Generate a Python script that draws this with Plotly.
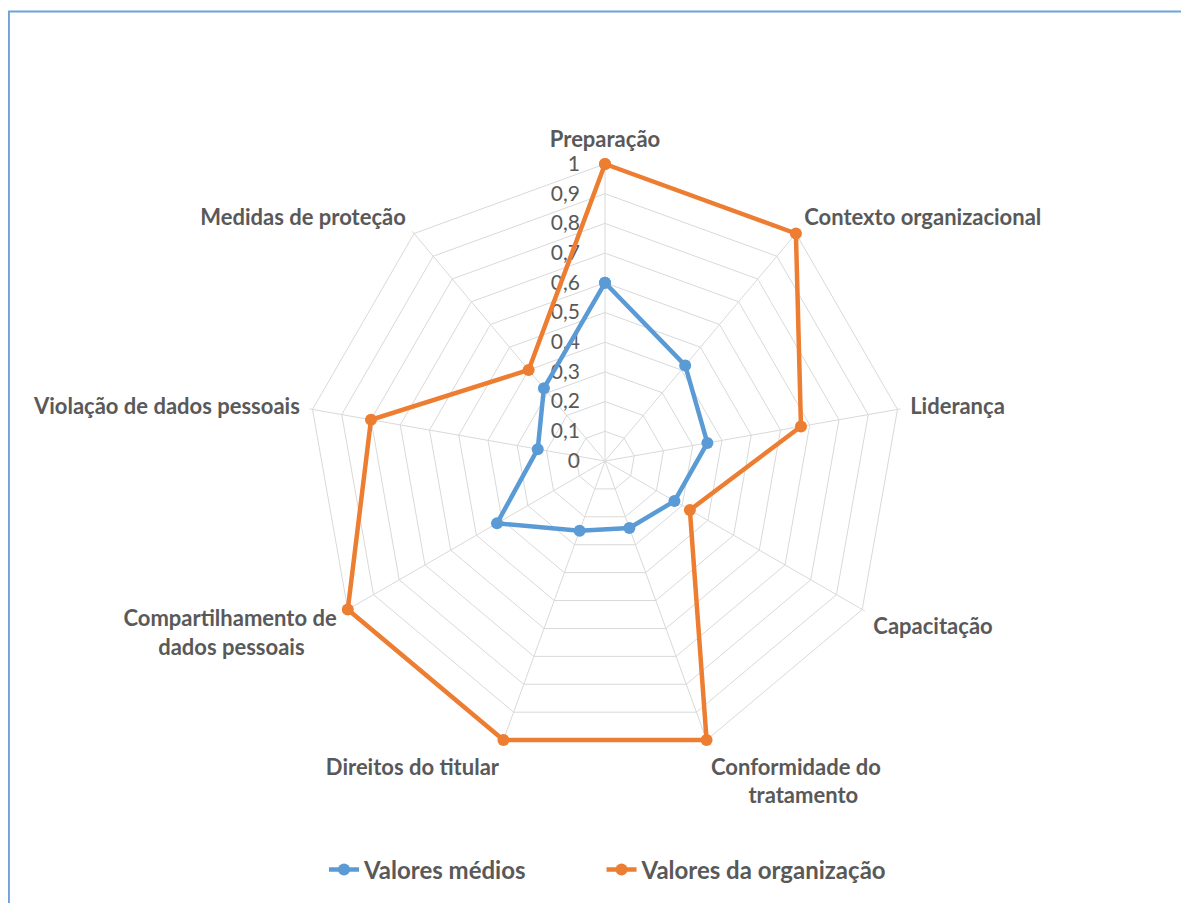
import plotly.graph_objects as go

NB = "\u00a0"
categories = ["Preparação", "Contexto organizacional", "Liderança", "Capacitação",
              "Conformidade do<br>" + NB * 7 + "tratamento", "Direitos do titular",
              "Compartilhamento de<br>dados pessoais" + NB * 6,
              "Violação de dados pessoais", "Medidas de proteção"]
valores_medios = [0.60, 0.42, 0.35, 0.27, 0.24, 0.25, 0.42, 0.23, 0.32]
valores_organizacao = [1.00, 1.00, 0.67, 0.33, 1.00, 1.00, 1.00, 0.80, 0.40]
series_names = ["Valores médios", "Valores da organização"]
legend_pad = [NB * 12, ""]
colors = ["#5B9BD5", "#ED7D31"]

W, H = 1189, 903
# page body has an 8px margin; figure coords = screen coords - 8
RMAX = 1.01  # tiny headroom so lines on the outer ring are not clipped
cx, cy, R1 = 597, 453, 297
R = R1 * RMAX

fig = go.Figure()
for name, pad, vals, col in zip(series_names, legend_pad,
                                [valores_medios, valores_organizacao], colors):
    fig.add_trace(go.Scatterpolar(
        r=vals + vals[:1], theta=categories + categories[:1], name=name + pad,
        mode="lines+markers", cliponaxis=False,
        line=dict(color=col, width=4.5),
        marker=dict(color=col, size=12),
    ))

fig.update_layout(
    width=W, height=H,
    margin=dict(l=0, r=0, t=0, b=0),
    paper_bgcolor="white", plot_bgcolor="white",
    separators=", ",
    font=dict(family="Lato, Open Sans, sans-serif", color="#595959"),
    polar=dict(
        domain=dict(x=[(cx - R) / W, (cx + R) / W], y=[1 - (cy + R) / H, 1 - (cy - R) / H]),
        bgcolor="white",
        gridshape="linear",
        angularaxis=dict(
            rotation=90, direction="clockwise", layer="below traces",
            showline=False,
            gridcolor="#D9D9D9", gridwidth=1.2,
            ticks="outside", ticklen=5, tickcolor="rgba(0,0,0,0)",
            tickfont=dict(size=22, color="#595959", weight="bold"),
        ),
        radialaxis=dict(
            range=[0, RMAX], tick0=0, dtick=0.1, angle=90,
            side="counterclockwise",
            tickangle=90, ticksuffix=NB * 4, layer="below traces",
            showline=False, ticks="",
            gridcolor="#D9D9D9", gridwidth=1.2,
            tickfont=dict(size=21, color="#595959"),
        ),
    ),
    legend=dict(
        orientation="h", x=600 / W, xanchor="center", y=1 - 862 / H, yanchor="middle",
        font=dict(size=24, color="#595959", weight="bold"),
    ),
    shapes=[dict(type="rect", xref="paper", yref="paper",
                 x0=0.8 / W, x1=1.02, y0=-0.02, y1=1 - 3.5 / H,
                 line=dict(color="#6FA3D8", width=2.2), fillcolor="rgba(0,0,0,0)")],
)

fig.write_html("out.html")
